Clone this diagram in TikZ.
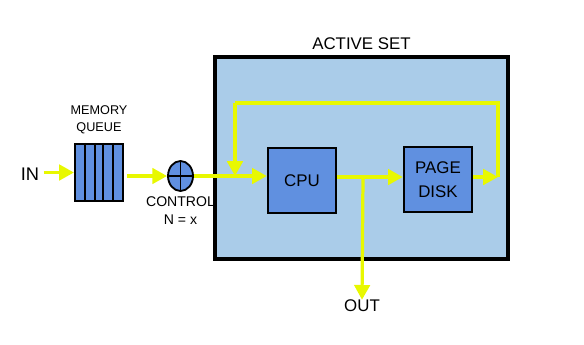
\documentclass[tikz,border=0pt]{standalone}
\usepackage{fontspec}
\setmainfont{Liberation Sans}
\usepackage{xcolor}
\definecolor{setblue}{RGB}{170,204,233}
\definecolor{boxblue}{RGB}{96,144,224}
\definecolor{flowyellow}{RGB}{232,248,0}
\usetikzlibrary{shapes.geometric, arrows.meta, positioning, calc}

\begin{document}
\begin{tikzpicture}[x=0.025cm, y=-0.025cm,
  unit/.style={rectangle, draw=black, line width=1.7pt, fill=boxblue,
               minimum width=1.7cm, minimum height=1.625cm, align=center,
               font=\fontsize{12}{17}\selectfont},
  lbl/.style={align=center, inner sep=0pt},
  flow/.style={draw=flowyellow, line width=2.3pt},
  arr/.style={flow, -{Triangle[length=10.5pt, width=11pt]}}
]
\useasboundingbox (0,0) rectangle (584,344);

% active set
\node[rectangle, draw=black, line width=2.6pt, fill=setblue,
      minimum width=7.325cm, minimum height=5.05cm] (active) at (361.5,158) {};
\node[lbl, font=\fontsize{12}{14}\selectfont, above=4pt of active.north] (title) {ACTIVE SET};

% units
\node[unit] (cpu) at (302,180.5) {CPU};
\node[unit] (disk) at (438,179.5) {PAGE\\DISK};

% memory queue
\node[rectangle, draw=black, line width=1.5pt, fill=boxblue,
      minimum width=1.2cm, minimum height=1.425cm] (queue) at (99,172.5) {};
\foreach \dx/\w in {0.275cm/1.8pt, 0.525cm/1pt, 0.725cm/1.8pt, 0.975cm/1pt}
  \draw[line width=\w] ([xshift=\dx]queue.north west) -- ([xshift=\dx]queue.south west);
\node[lbl, font=\fontsize{9}{12}\selectfont, above=6pt of queue] (qlabel) {MEMORY\\QUEUE};

% control
\node[ellipse, draw=black, line width=1.3pt, fill=boxblue, inner sep=0pt,
      minimum width=0.625cm, minimum height=0.75cm] (ctrl) at (180.5,176) {};
\draw[line width=1.3pt] (ctrl.north) -- (ctrl.south);
\draw[line width=1.3pt] (ctrl.west) -- (ctrl.east);
\node[lbl, font=\fontsize{10}{13}\selectfont, below=3pt of ctrl] (clabel) {CONTROL\\N = x};

% in / out
\node[lbl, font=\fontsize{13}{15}\selectfont] (in) at (30,174) {IN};
\node[lbl, font=\fontsize{12}{14}\selectfont] (out) at (362,306) {OUT};

% junctions
\coordinate (join) at (235,176);
\coordinate (split) at (363,177);
\coordinate (back) at (498,177);

% flow
\draw[arr, shorten <=3pt] (in.east |- queue.west) -- (queue.west);
\draw[arr, shorten <=2pt] (queue.east |- ctrl.west) -- (ctrl.west);
\draw[arr] (ctrl.east) -- (cpu.west |- ctrl.east);
\draw[arr] (cpu.east |- split) -- (disk.west |- split);
\draw[arr] (disk.east |- back) -- (back);
\draw[flow] (back) -- (498,103) -- (235,103) coordinate (loop);
\draw[arr] (loop) -- (join);
\draw[arr] (split) -- (out.north);
\end{tikzpicture}
\end{document}
